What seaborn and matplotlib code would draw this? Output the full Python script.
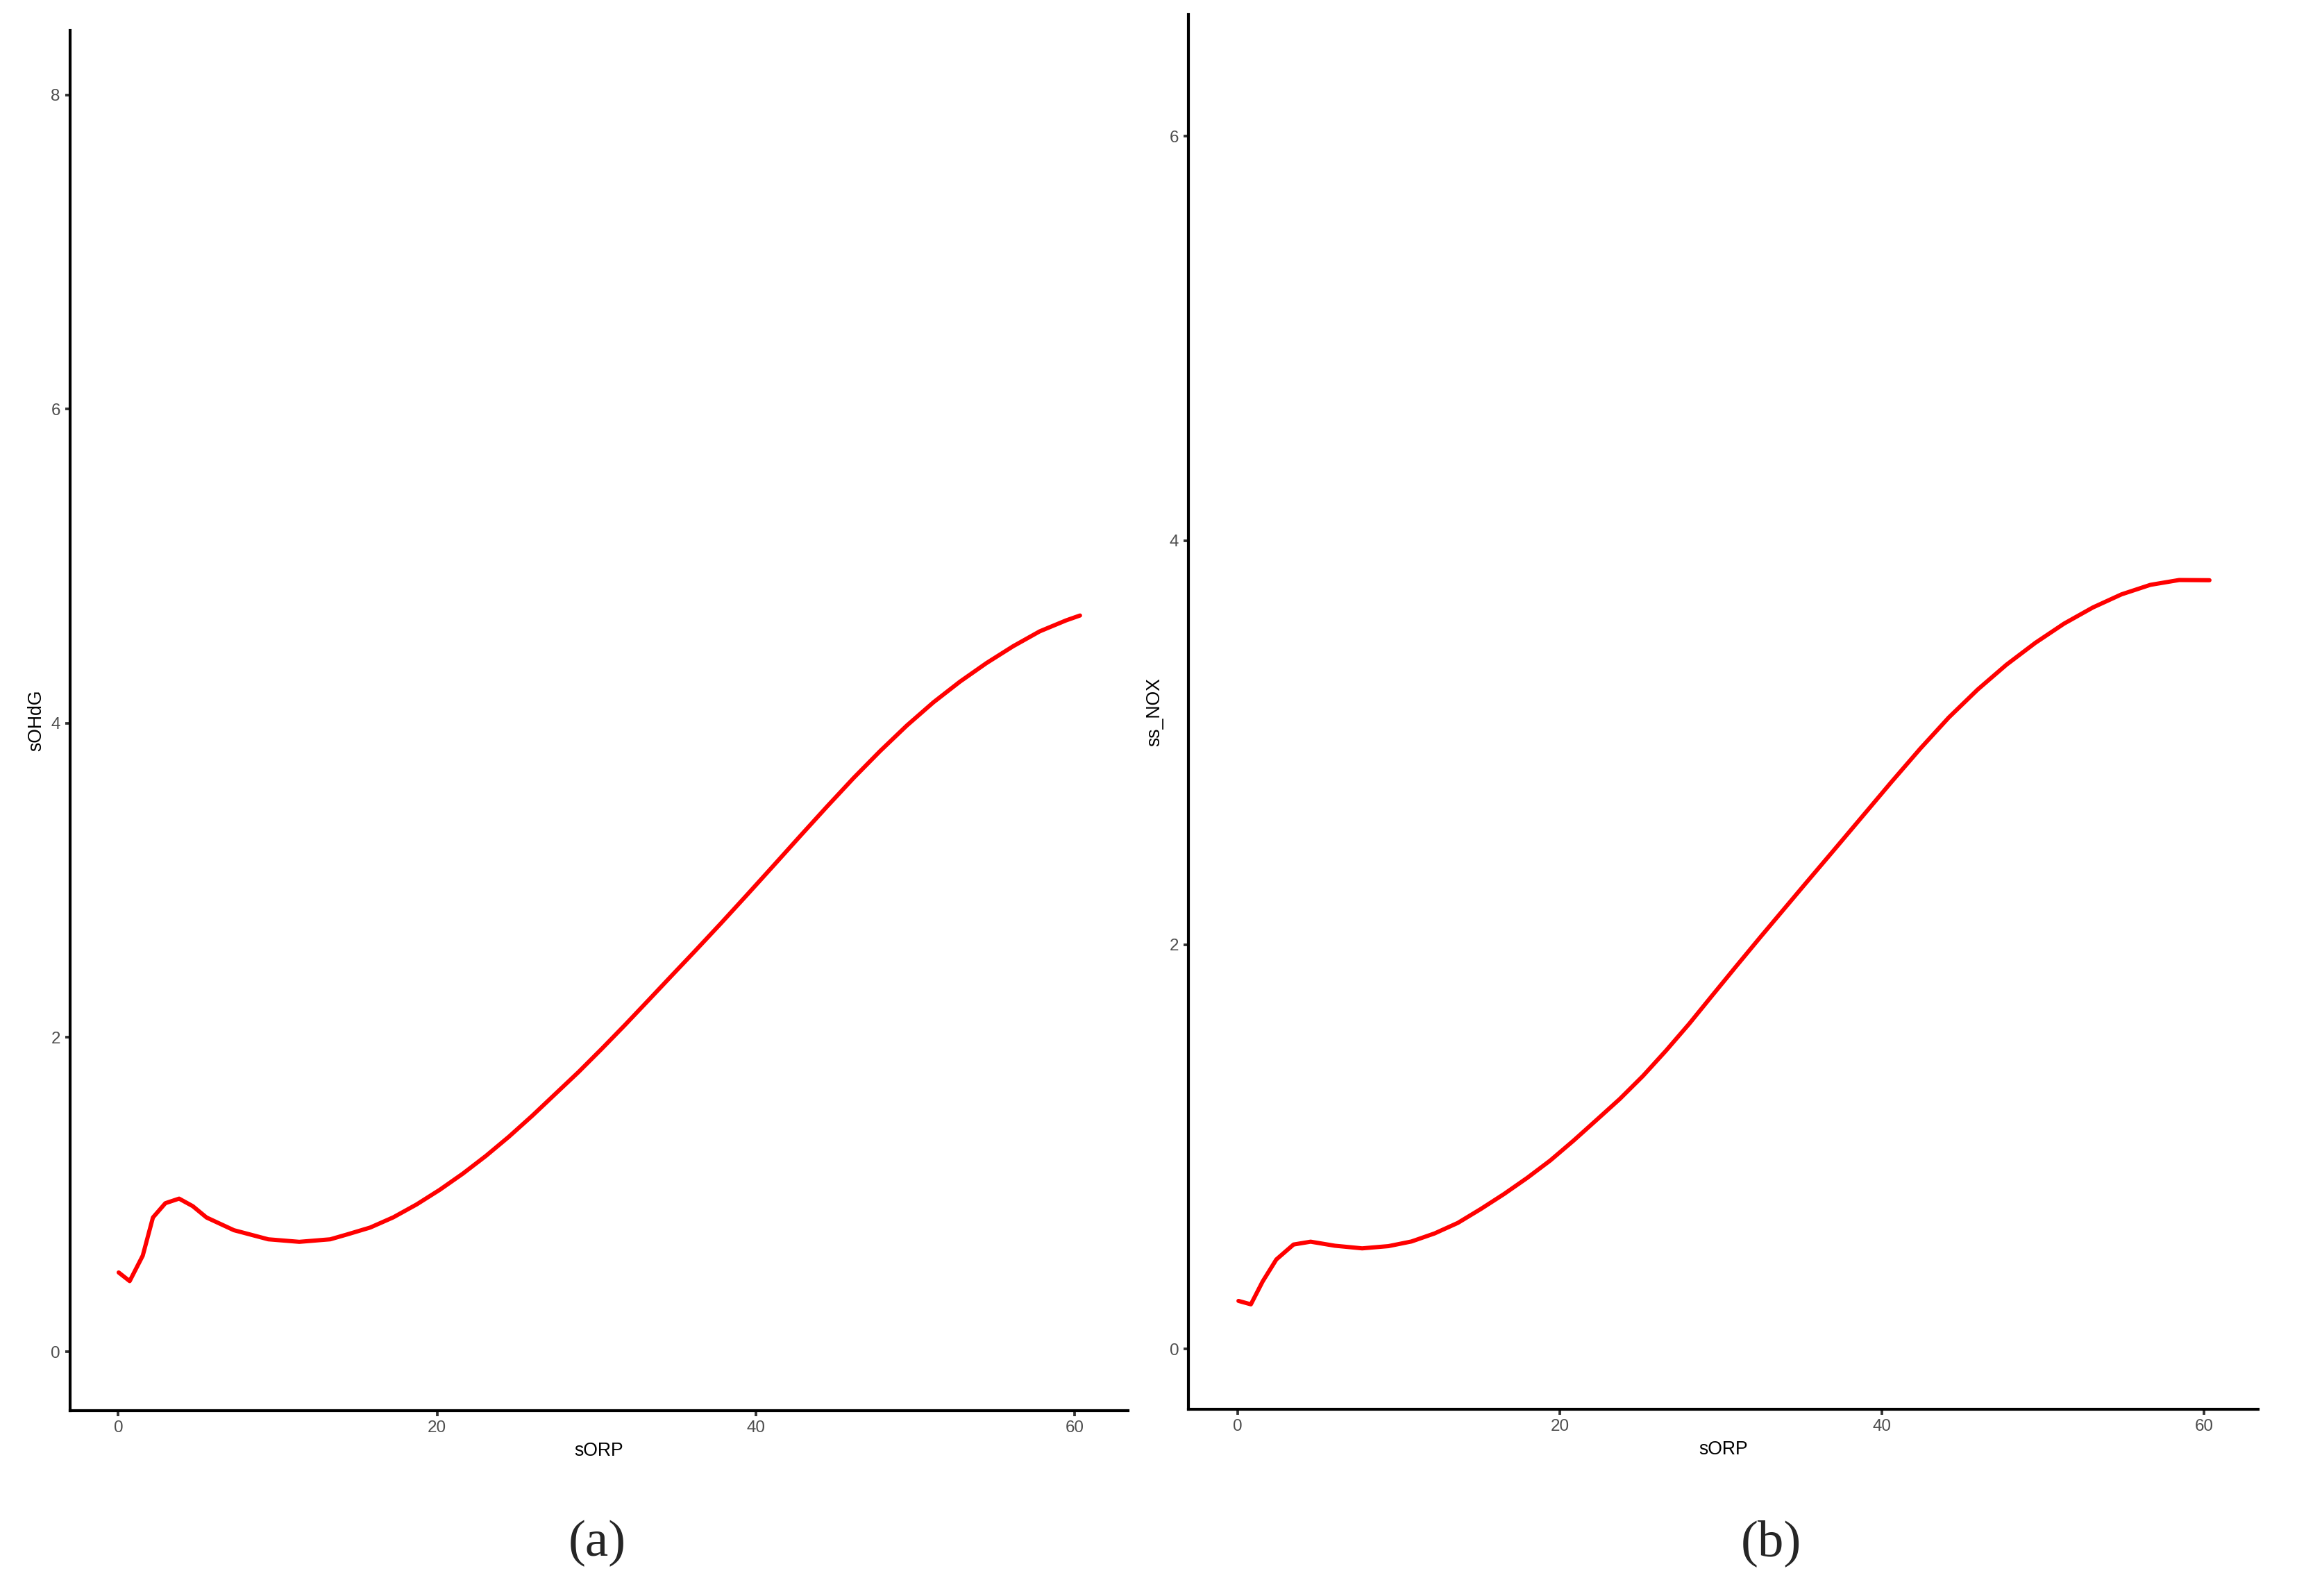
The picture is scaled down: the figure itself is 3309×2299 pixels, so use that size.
import matplotlib
matplotlib.use("Agg")
import matplotlib.pyplot as plt
import seaborn as sns
import numpy as np
import pandas as pd

# values
sorp_a = [0.03, 0.72, 1.54, 2.18, 2.96, 3.82, 4.68, 5.54, 7.26, 9.42, 11.36, 13.3,
          14.36, 15.81, 17.26, 18.72, 20.17, 21.62, 23.07, 24.52, 25.98, 27.43, 28.88,
          30.33, 31.78, 33.23, 34.69, 36.14, 37.80, 39.47, 41.14, 42.81, 44.47, 46.14,
          47.80, 49.47, 51.14, 52.81, 54.47, 56.14, 57.81, 59.47, 60.34]
sohdg = [0.504, 0.449, 0.611, 0.854, 0.945, 0.974, 0.926, 0.854, 0.773, 0.715, 0.699,
         0.715, 0.746, 0.790, 0.855, 0.937, 1.030, 1.133, 1.246, 1.369, 1.502, 1.641,
         1.780, 1.927, 2.078, 2.233, 2.390, 2.545, 2.725, 2.910, 3.097, 3.285, 3.470,
         3.652, 3.823, 3.985, 4.133, 4.265, 4.383, 4.490, 4.585, 4.655, 4.686]

sorp_b = [0.06, 0.83, 1.56, 2.41, 3.48, 4.54, 6.04, 7.74, 9.37, 10.80, 12.24, 13.68,
          15.11, 16.55, 17.99, 19.42, 20.86, 22.30, 23.73, 25.17, 26.61, 28.04, 29.48,
          30.92, 32.48, 35.23, 37.02, 38.80, 40.59, 42.38, 44.16, 45.95, 47.74, 49.53,
          51.31, 53.10, 54.88, 56.67, 58.46, 60.34]
ss_nox = [0.238, 0.221, 0.334, 0.443, 0.517, 0.531, 0.511, 0.498, 0.509, 0.532, 0.572,
          0.624, 0.693, 0.767, 0.847, 0.933, 1.031, 1.134, 1.237, 1.351, 1.477, 1.609,
          1.750, 1.890, 2.040, 2.300, 2.468, 2.636, 2.805, 2.970, 3.125, 3.263, 3.386,
          3.494, 3.589, 3.669, 3.734, 3.781, 3.805, 3.804]

df_a = pd.DataFrame({"sORP": sorp_a, "sOHdG": sohdg})
df_b = pd.DataFrame({"sORP": sorp_b, "ss_NOX": ss_nox})

sns.set_style("ticks")
plt.rcParams["font.family"] = ["Liberation Sans", "DejaVu Sans"]

fig = plt.figure(figsize=(3309 / 300, 2299 / 300), dpi=300)
ax1 = fig.add_axes([0.0305, 0.1161, 0.4605, 0.8648])
ax2 = fig.add_axes([0.5175, 0.1169, 0.4655, 0.8740])

panels = [
    (ax1, df_a, "sOHdG", (-3.02, 63.34), (-0.376, 8.41), [0, 2, 4, 6, 8]),
    (ax2, df_b, "ss_NOX", (-3.03, 63.35), (-0.299, 6.603), [0, 2, 4, 6]),
]

for ax, df, ycol, xl, yl, yt in panels:
    sns.lineplot(data=df, x="sORP", y=ycol, ax=ax, color="#ff0000", linewidth=1.45,
                 estimator=None, sort=False)
    ax.set_xlim(*xl)
    ax.set_ylim(*yl)
    ax.set_xticks([0, 20, 40, 60])
    ax.set_yticks(yt)
    sns.despine(ax=ax)
    for s in ["left", "bottom"]:
        ax.spines[s].set_linewidth(1.0)
        ax.spines[s].set_color("black")
    ax.tick_params(axis="both", length=1.8, width=0.9, color="#333333",
                   labelcolor="#4d4d4d", labelsize=5.8, pad=1.6)
    ax.set_xlabel("sORP", fontsize=6.4, color="black", labelpad=2)
    ax.set_ylabel(ycol, fontsize=6.4, color="black", labelpad=2)

fig.text(0.2600, 0.0330, "(a)", ha="center", va="center", fontsize=18,
         family=["Liberation Serif", "DejaVu Serif"])
fig.text(0.7712, 0.0330, "(b)", ha="center", va="center", fontsize=18,
         family=["Liberation Serif", "DejaVu Serif"])

fig.savefig("out.png", dpi=300, facecolor="white")
